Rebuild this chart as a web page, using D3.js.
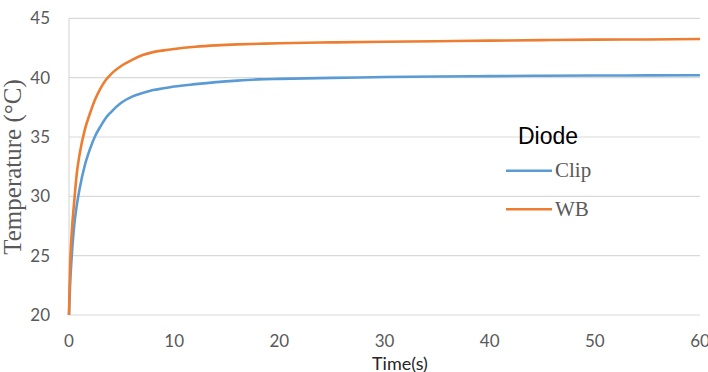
<!DOCTYPE html>
<html>
<head>
<meta charset="utf-8">
<script src="https://cdn.jsdelivr.net/npm/d3@7"></script>
<style>
  body { margin: 0; background: #fff; }
  svg { display: block; }
</style>
</head>
<body>
<div id="chart"></div>
<script>
// time in seconds, temperature in °C
const times = [0, 0.1, 0.25, 0.5, 0.75, 1, 1.5, 2, 2.5, 3, 3.5, 4, 5, 6, 7, 8, 9, 10,
  12, 14, 16, 18, 20, 25, 30, 35, 40, 45, 50, 55, 60];
const clipTemps = [20, 22.5, 24.8, 27.6, 29.3, 30.6, 32.6, 34.0, 35.1, 35.9, 36.6, 37.1,
  37.9, 38.4, 38.7, 38.95, 39.1, 39.25, 39.45, 39.62, 39.75, 39.85, 39.9, 39.98, 40.05,
  40.1, 40.13, 40.16, 40.18, 40.19, 40.2];
const wbTemps = [20, 24, 26.8, 29.6, 32, 33.5, 35.6, 37.0, 38.2, 39.1, 39.8, 40.3, 41.0, 41.5,
  41.9, 42.15, 42.3, 42.42, 42.6, 42.72, 42.8, 42.85, 42.9, 42.97, 43.02, 43.07, 43.12,
  43.16, 43.2, 43.22, 43.25];
const xTicks = [0, 10, 20, 30, 40, 50, 60];
const yTicks = [20, 25, 30, 35, 40, 45];
const seriesNames = ["Clip", "WB"];
const seriesColors = ["#5b9bd5", "#ed7d31"];

const w = 708, h = 372;
const svg = d3.select("#chart").append("svg")
  .attr("width", w)
  .attr("height", h);

const x = d3.scaleLinear().domain([0, 60]).range([69, 700]);
const y = d3.scaleLinear().domain([20, 45]).range([315, 18.3]);

// gridlines
svg.selectAll(".grid")
  .data(yTicks)
  .enter()
  .append("line")
  .attr("x1", x(0))
  .attr("x2", x(60))
  .attr("y1", (d) => y(d))
  .attr("y2", (d) => y(d))
  .attr("stroke", "#d9d9d9")
  .attr("stroke-width", 1.2);

// left vertical line
svg.append("line")
  .attr("x1", x(0)).attr("x2", x(0))
  .attr("y1", y(45)).attr("y2", y(20))
  .attr("stroke", "#d9d9d9")
  .attr("stroke-width", 1.2);

// tick labels
svg.selectAll(".ylab")
  .data(yTicks)
  .enter()
  .append("text")
  .attr("x", 50)
  .attr("y", (d) => y(d) + 6)
  .attr("text-anchor", "end")
  .attr("font-family", "Lato, 'Open Sans', sans-serif")
  .attr("font-size", 17)
  .attr("fill", "#595959")
  .text((d) => d);

svg.selectAll(".xlab")
  .data(xTicks)
  .enter()
  .append("text")
  .attr("x", (d) => x(d))
  .attr("y", 346.5)
  .attr("text-anchor", "middle")
  .attr("font-family", "Lato, 'Open Sans', sans-serif")
  .attr("font-size", 17)
  .attr("fill", "#595959")
  .text((d) => d);

// axis titles
svg.append("text")
  .attr("x", 400)
  .attr("y", 370)
  .attr("text-anchor", "middle")
  .attr("font-family", "Lato, 'Open Sans', sans-serif")
  .attr("font-size", 18)
  .attr("fill", "#262626")
  .text("Time(s)");

svg.append("text")
  .attr("transform", "translate(21,167) rotate(-90)")
  .attr("text-anchor", "middle")
  .attr("font-family", "'Liberation Serif', 'Times New Roman', serif")
  .attr("font-size", 25)
  .attr("fill", "#595959")
  .text("Temperature (°C)");

// series lines
const line = d3.line()
  .x((d) => x(d[0]))
  .y((d) => y(d[1]))
  .curve(d3.curveMonotoneX);

const series = [clipTemps, wbTemps].map((vals) => times.map((t, i) => [t, vals[i]]));

svg.selectAll(".series")
  .data(series)
  .enter()
  .append("path")
  .attr("d", line)
  .attr("fill", "none")
  .attr("stroke", (d, i) => seriesColors[i])
  .attr("stroke-width", 2.6)
  .attr("stroke-linejoin", "round");

// legend
svg.append("text")
  .attr("x", 518)
  .attr("y", 144)
  .attr("font-family", "'Liberation Sans', Arial, sans-serif")
  .attr("font-size", 23)
  .attr("fill", "#000")
  .text("Diode");

const legend = svg.selectAll(".legend")
  .data(seriesNames)
  .enter()
  .append("g")
  .attr("transform", (d, i) => `translate(506,${170.7 + i * 38.6})`);

legend.append("line")
  .attr("x1", 0).attr("x2", 46)
  .attr("y1", 0).attr("y2", 0)
  .attr("stroke", (d, i) => seriesColors[i])
  .attr("stroke-width", 2.6);

legend.append("text")
  .attr("x", 49)
  .attr("y", 6.5)
  .attr("font-family", "'Liberation Serif', 'Times New Roman', serif")
  .attr("font-size", 21)
  .attr("fill", "#595959")
  .text((d) => d);
</script>
</body>
</html>
